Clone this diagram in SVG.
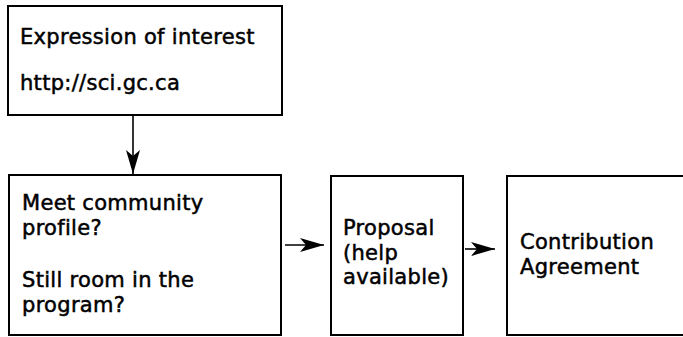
<svg xmlns="http://www.w3.org/2000/svg" width="683" height="337" viewBox="0 0 683 337">
<style>
.box{fill:#fff;stroke:#000;stroke-width:2}
.t{font-family:"DejaVu Sans","Open Sans",sans-serif;font-size:21px;letter-spacing:0.3px;fill:#000;stroke:#000;stroke-width:0.5px}
.c{stroke:#000;stroke-width:1.6;fill:none}
</style>
<defs>
<marker id="ah" viewBox="0 0 24 14" refX="24" refY="7" markerWidth="24" markerHeight="14" markerUnits="userSpaceOnUse" orient="auto">
<path d="M0,0 L24,7 L0,14 L6,7 Z" fill="#000"/>
</marker>
</defs>
<rect width="683" height="337" fill="#fff"/>
<g id="n1">
<rect class="box" x="8" y="6" width="274" height="109"/>
<text class="t" x="20" y="44">Expression of interest</text>
<text class="t" x="20" y="90">http://sci.gc.ca</text>
</g>
<g id="n2">
<rect class="box" x="9" y="175" width="272" height="160"/>
<text class="t" x="22" y="210">Meet community</text>
<text class="t" x="22" y="235">profile?</text>
<text class="t" x="22" y="287">Still room in the</text>
<text class="t" x="22" y="312">program?</text>
</g>
<g id="n3">
<rect class="box" x="331" y="176" width="132" height="159"/>
<text class="t" x="343" y="235">Proposal</text>
<text class="t" x="343" y="259.5">(help</text>
<text class="t" x="343" y="284">available)</text>
</g>
<g id="n4">
<rect class="box" x="507" y="176" width="190" height="159"/>
<text class="t" x="520" y="249">Contribution</text>
<text class="t" x="520" y="274">Agreement</text>
</g>
<g id="connectors">
<line class="c" x1="133" y1="115" x2="133" y2="174" marker-end="url(#ah)"/>
<line class="c" x1="285" y1="245" x2="324" y2="245" marker-end="url(#ah)"/>
<line class="c" x1="465" y1="249" x2="495" y2="249" marker-end="url(#ah)"/>
</g>
</svg>
